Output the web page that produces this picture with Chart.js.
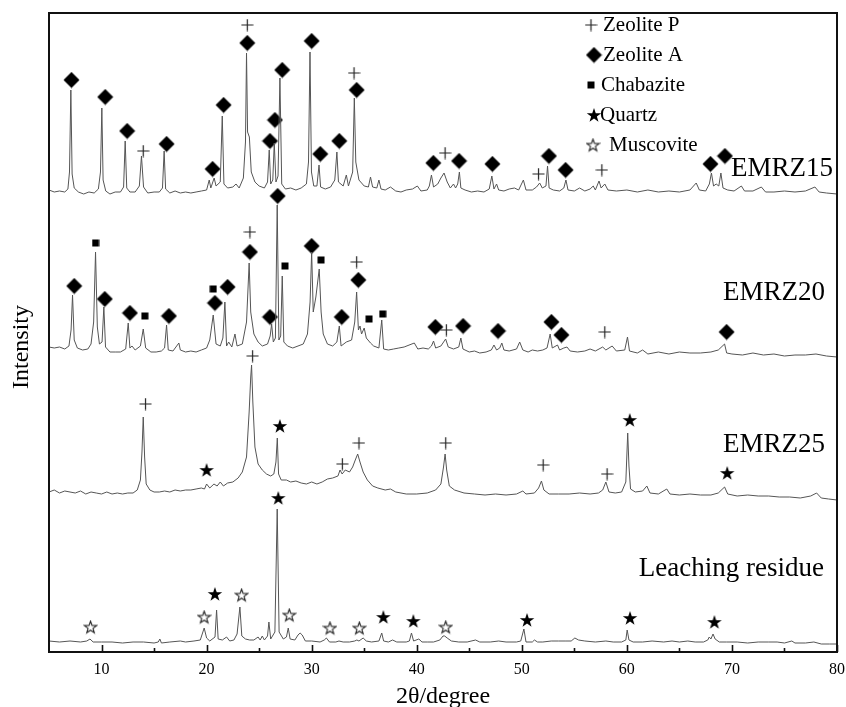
<!DOCTYPE html>
<html>
<head>
<meta charset="utf-8">
<script src="https://cdn.jsdelivr.net/npm/chart.js@4.4.0/dist/chart.umd.min.js"></script>
<style>
  html, body { margin: 0; padding: 0; background: #fff; }
  canvas { display: block; }
</style>
</head>
<body>
<canvas id="xrdChart" width="846" height="707"></canvas>
<script>
// axis ticks
const xTickValues = [10, 20, 30, 40, 50, 60, 70, 80];
const xMinorTicks = [15, 25, 35, 45, 55, 65, 75];

// samples, stacked with a vertical offset each
const sampleNames = ["EMRZ15", "EMRZ20", "EMRZ25", "Leaching residue"];
const sampleOffsets = [460, 300, 160, 10];

// [2theta, intensity above own baseline]
const emrz15 = [
  [5.0, 2], [5.5, 0], [6.0, 1], [6.5, 0], [6.8, 3], [6.95, 20], [7.08, 102], [7.2, 18], [7.4, 4], [7.8, 0],
  [8.3, -2], [8.8, 0], [9.3, -1], [9.7, 3], [9.9, 20], [10.03, 84], [10.15, 12], [10.4, 1], [10.8, -2], [11.3, 0],
  [11.8, 0], [12.1, 5], [12.25, 51], [12.4, 4], [12.7, 0], [13.2, 0], [13.6, 6], [13.8, 36], [14.0, 5], [14.4, -1],
  [15.0, 0], [15.5, 0], [15.8, 4], [15.96, 41], [16.1, 3], [16.5, -1], [17.0, 1], [17.5, -1], [18.0, 0], [18.5, -1],
  [19.0, 0], [19.5, 1], [20.0, 2], [20.25, 12], [20.4, 4], [20.72, 14], [20.9, 6], [21.3, 10], [21.49, 76], [21.65, 8],
  [22.0, 4], [22.5, 5], [22.8, 8], [23.1, 4], [23.5, 14], [23.7, 50], [23.8, 139], [23.9, 60], [24.07, 55], [24.25, 20],
  [24.6, 10], [25.0, 6], [25.5, 4], [25.8, 10], [25.96, 42], [26.1, 8], [26.3, 12], [26.44, 49], [26.6, 10], [26.8, 16],
  [26.98, 114], [27.15, 8], [27.5, 3], [28.0, 4], [28.5, 2], [29.0, 4], [29.5, 8], [29.7, 30], [29.84, 140], [29.98, 20],
  [30.2, 6], [30.5, 6], [30.7, 27], [30.85, 5], [31.3, 3], [31.8, 5], [32.2, 12], [32.4, 40], [32.55, 10], [33.0, 6],
  [33.3, 17], [33.5, 6], [33.9, 20], [34.06, 94], [34.2, 30], [34.5, 12], [35.0, 6], [35.4, 5], [35.6, 15], [35.8, 5],
  [36.2, 4], [36.4, 12], [36.6, 3], [37.0, 2], [37.5, 5], [38.0, 1], [38.5, 0], [39.0, 2], [39.6, 3], [40.06, 6],
  [40.4, 1], [41.0, 2], [41.2, 6], [41.4, 17], [41.6, 5], [42.0, 8], [42.3, 14], [42.6, 19], [42.9, 10], [43.2, 4],
  [43.5, 8], [43.7, 4], [43.9, 8], [44.06, 20], [44.2, 4], [44.6, 2], [45.2, 0], [45.8, 1], [46.4, 0], [46.9, 3],
  [47.15, 16], [47.35, 3], [47.6, 8], [47.8, 2], [48.3, 1], [48.8, 3], [49.3, 4], [49.7, 2], [50.15, 12], [50.4, 2],
  [51.0, 2], [51.4, 5], [51.7, 9], [51.95, 4], [52.3, 6], [52.45, 26], [52.6, 4], [53.0, 2], [53.6, 1], [54.0, 4],
  [54.2, 12], [54.4, 2], [55.0, 1], [55.5, 4], [56.0, 1], [56.5, 3], [56.8, 6], [57.0, 2], [57.35, 11], [57.55, 4],
  [57.9, 8], [58.2, 2], [59.0, 1], [60.0, 2], [61.0, 0], [62.0, 2], [63.0, 0], [64.0, 1], [65.0, 0], [66.0, 2],
  [66.6, 9], [66.9, 2], [67.5, 1], [67.85, 8], [68.05, 19], [68.25, 6], [68.5, 8], [68.75, 6], [68.95, 19], [69.15, 4],
  [69.6, 2], [70.2, 1], [70.9, 6], [71.2, 1], [72.0, 1], [72.8, 5], [73.2, 0], [74.0, 0], [75.0, 1], [76.0, 0],
  [77.0, 1], [77.9, 5], [78.3, 0], [79.0, -1], [80.0, -2]
];

const emrz20 = [
  [5.0, 5], [5.5, 4], [6.0, 5], [6.5, 3], [6.9, 6], [7.1, 22], [7.24, 57], [7.4, 12], [7.7, 4], [8.2, 2],
  [8.7, 3], [9.0, 8], [9.25, 30], [9.43, 100], [9.6, 25], [9.8, 8], [10.05, 10], [10.22, 45], [10.38, 5], [10.8, 0],
  [11.3, 0], [11.8, 0], [12.3, 3], [12.54, 29], [12.7, 4], [12.9, 6], [13.2, 2], [13.7, 6], [13.97, 23], [14.2, 4],
  [14.7, 0], [15.2, 0], [15.7, 1], [16.0, 4], [16.19, 27], [16.35, 2], [16.8, 1], [17.36, 9], [17.5, 2], [18.0, 0],
  [18.5, 1], [19.0, 0], [19.5, 2], [20.0, 4], [20.3, 12], [20.63, 37], [20.9, 8], [21.3, 6], [21.55, 14], [21.74, 50],
  [21.9, 6], [22.1, 10], [22.4, 5], [22.7, 18], [22.9, 6], [23.4, 8], [23.8, 30], [24.05, 89], [24.2, 40], [24.5, 18],
  [24.9, 10], [25.3, 6], [25.8, 8], [26.05, 16], [26.19, 28], [26.35, 10], [26.55, 14], [26.72, 147], [26.88, 12], [27.05, 16],
  [27.2, 76], [27.35, 10], [27.7, 6], [28.2, 4], [28.7, 6], [29.2, 8], [29.6, 18], [29.85, 50], [30.0, 100], [30.15, 40],
  [30.4, 55], [30.72, 83], [30.9, 40], [31.1, 18], [31.5, 8], [32.0, 6], [32.4, 10], [32.63, 26], [32.8, 6], [33.3, 10],
  [33.8, 12], [34.1, 30], [34.28, 60], [34.45, 22], [34.6, 26], [34.75, 18], [35.0, 24], [35.2, 14], [35.6, 9], [35.9, 6],
  [36.4, 4], [36.67, 32], [36.85, 3], [37.3, 2], [37.8, 3], [38.3, 4], [38.8, 5], [39.77, 9], [40.1, 3], [40.6, 4],
  [41.1, 3], [41.4, 6], [41.6, 11], [41.8, 4], [42.3, 6], [42.75, 13], [43.0, 5], [43.5, 3], [44.0, 5], [44.2, 14],
  [44.4, 3], [45.0, 0], [45.5, 1], [46.0, -1], [46.6, 0], [47.1, 2], [47.35, 7], [47.6, 2], [47.9, 4], [48.1, 9],
  [48.3, 2], [48.8, 1], [49.5, 3], [49.8, 10], [50.1, 2], [50.6, 0], [51.0, 2], [51.5, 1], [52.0, 2], [52.4, 4],
  [52.7, 18], [52.9, 4], [53.4, 7], [53.6, 2], [54.0, 4], [54.3, 5], [54.6, 1], [55.3, 0], [56.0, 1], [56.5, 3],
  [57.0, 1], [57.7, 5], [58.0, 2], [58.6, 6], [59.0, 1], [59.8, 2], [60.06, 15], [60.25, 1], [61.0, -1], [61.5, 2],
  [62.0, -2], [63.0, 0], [64.0, -2], [65.0, 0], [66.0, -1], [67.0, -1], [68.0, 0], [68.7, 2], [69.3, 8], [69.5, -1],
  [70.0, -2], [71.0, -3], [72.0, -1], [73.0, -3], [74.0, -2], [75.0, -4], [76.0, -3], [77.0, -3], [78.0, -2], [79.0, -4],
  [80.0, -5]
];

const emrz25 = [
  [5.0, 0], [5.5, 2], [6.0, -1], [6.5, 1], [7.0, 0], [7.5, -1], [8.0, 1], [8.5, -2], [9.0, 0], [9.5, -1],
  [10.0, -2], [10.5, 0], [11.0, -2], [11.5, -1], [12.0, -2], [12.5, -1], [13.0, -1], [13.4, 2], [13.7, 12], [13.85, 40],
  [13.97, 75], [14.1, 35], [14.25, 8], [14.6, 2], [15.0, 0], [15.5, 0], [16.0, 1], [16.5, 0], [17.0, 2], [17.5, 1],
  [18.0, 2], [18.5, 2], [19.0, 3], [19.5, 4], [19.8, 3], [20.0, 8], [20.3, 4], [20.7, 8], [21.0, 6], [21.3, 10],
  [21.6, 6], [22.0, 9], [22.5, 10], [23.0, 14], [23.4, 20], [23.8, 35], [24.05, 80], [24.2, 115], [24.28, 127], [24.4, 90],
  [24.6, 45], [24.9, 28], [25.3, 22], [25.7, 18], [26.1, 16], [26.4, 18], [26.6, 30], [26.73, 54], [26.85, 18], [27.1, 12],
  [27.6, 12], [28.0, 10], [28.5, 11], [29.0, 9], [29.5, 8], [30.0, 10], [30.5, 8], [31.0, 10], [31.5, 13], [32.0, 14],
  [32.5, 16], [32.7, 22], [32.9, 18], [33.2, 22], [33.6, 20], [33.9, 25], [34.15, 32], [34.38, 38], [34.6, 30], [34.9, 20],
  [35.3, 12], [35.8, 6], [36.3, 4], [37.0, 2], [37.5, 3], [38.0, 0], [39.0, -2], [40.0, -2], [41.0, -1], [41.8, 2],
  [42.3, 8], [42.55, 25], [42.7, 38], [42.85, 22], [43.1, 6], [43.6, 2], [44.5, -1], [45.5, -2], [46.5, -3], [47.5, -2],
  [48.5, -3], [49.5, -2], [50.1, 1], [50.4, -2], [51.2, -1], [51.6, 4], [51.87, 11], [52.1, 2], [52.6, -2], [53.5, -2],
  [54.5, -2], [55.5, -1], [56.5, -2], [57.3, -1], [57.7, 2], [58.0, 10], [58.3, 0], [58.9, -1], [59.5, 0], [59.9, 10],
  [60.08, 59], [60.2, 26], [60.35, 3], [60.8, 0], [61.5, 1], [61.9, 6], [62.2, -1], [63.0, -2], [63.8, 3], [64.1, -2],
  [65.0, -3], [66.0, -2], [67.0, -3], [68.0, -3], [68.7, -1], [69.3, 5], [69.6, -2], [70.5, -4], [71.5, -3], [72.5, -4],
  [73.5, -4], [74.5, -5], [75.5, -5], [76.5, -6], [77.5, -4], [78.06, -1], [78.5, -6], [79.2, -7], [80.0, -8]
];

const residue = [
  [5.0, 1], [6.0, 0], [7.0, 1], [8.0, 0], [8.6, 1], [8.9, 3], [9.2, 0], [10.0, 0], [11.0, 0], [12.0, -1],
  [13.0, 0], [14.0, 0], [15.0, -1], [15.4, 0], [15.55, 3], [15.7, -1], [16.5, 0], [17.5, 1], [18.0, 0], [18.8, 1],
  [19.4, 2], [19.77, 14], [20.0, 4], [20.3, 1], [20.8, 5], [20.95, 32], [21.1, 3], [21.5, 2], [21.9, 5], [22.2, 1],
  [22.6, 2], [22.9, 8], [23.17, 35], [23.35, 6], [23.7, 3], [24.1, 2], [24.5, 2], [24.9, 5], [25.1, 2], [25.3, 6],
  [25.5, 2], [25.8, 6], [25.93, 20], [26.1, 3], [26.5, 10], [26.72, 133], [26.9, 10], [27.3, 3], [27.6, 5], [27.77, 14],
  [27.95, 3], [28.4, 2], [28.7, 7], [28.9, 9], [29.1, 7], [29.4, 1], [30.0, 1], [30.8, 0], [31.2, 2], [31.4, 4],
  [31.7, 0], [32.3, 0], [32.6, 1], [33.0, 0], [33.6, 0], [34.1, 1], [34.3, 2], [34.5, 1], [34.9, 4], [35.2, 1],
  [35.7, 0], [36.4, 1], [36.67, 9], [36.85, 1], [37.3, 0], [37.7, 2], [38.1, 0], [39.0, 0], [39.3, 1], [39.5, 9],
  [39.7, 1], [40.2, 3], [40.5, 0], [41.0, 0], [41.6, 0], [42.2, 2], [42.5, 6], [42.66, 6], [42.9, 4], [43.3, 1],
  [44.0, 0], [44.8, 0], [45.6, 2], [46.0, 0], [47.0, 0], [47.8, 1], [48.5, 0], [49.5, 0], [49.9, 1], [50.2, 13],
  [50.4, 0], [51.0, 0], [51.2, 2], [51.5, 0], [52.0, 0], [52.8, 1], [53.5, 1], [54.2, 1], [54.7, 1], [55.05, 4],
  [55.4, 2], [56.0, 1], [57.0, 0], [58.0, 1], [58.7, 0], [59.5, 0], [59.9, 2], [60.03, 12], [60.2, 2], [60.6, 0],
  [61.5, 0], [62.4, 1], [63.5, 0], [64.3, 1], [65.0, 0], [65.8, 1], [66.5, 0], [67.3, 0], [67.7, 2], [67.84, 5],
  [68.0, 3], [68.2, 8], [68.4, 3], [68.8, 0], [69.5, 0], [70.5, 0], [71.5, -1], [72.5, 0], [73.5, 0], [74.3, 0],
  [75.0, -1], [75.7, 1], [76.0, -1], [77.0, -1], [77.8, 0], [78.5, -2], [79.3, -2], [80.0, -2]
];

// phase marks [2theta, height on the whole stacked plot]
const zeolitePMarks = [
  [13.97, 501], [23.87, 627], [34.03, 579], [42.7, 499], [51.59, 478], [57.62, 482],
  [24.12, 420], [34.28, 390], [42.82, 322], [57.9, 320],
  [14.19, 248], [24.38, 296], [32.92, 188], [34.5, 209], [42.76, 209], [52.03, 187], [58.12, 178]
];
const zeoliteAMarks = [
  [7.14, 572], [10.35, 555], [12.44, 521], [16.19, 508], [20.57, 483], [21.62, 547], [23.87, 609],
  [26.03, 511], [26.5, 532], [27.2, 582], [30.0, 611], [30.82, 498], [32.63, 511], [34.28, 562],
  [41.58, 489], [44.03, 491], [47.2, 488], [52.58, 496], [54.17, 482], [67.96, 488], [69.33, 496],
  [7.4, 366], [10.31, 353], [12.7, 339], [16.41, 336], [20.79, 349], [22.0, 365], [24.12, 400],
  [26.03, 335], [26.76, 456], [30.0, 406], [32.86, 335], [34.44, 372], [41.77, 325], [44.41, 326],
  [47.74, 321], [52.82, 330], [53.77, 317], [69.49, 320]
];
const chabaziteMarks = [
  [9.43, 409], [14.12, 336], [20.63, 363], [27.46, 386], [30.89, 392], [35.46, 333], [36.76, 338]
];
const quartzMarks = [
  [20.0, 182], [26.98, 226], [60.28, 232], [69.55, 179],
  [20.79, 58], [26.82, 154], [36.82, 35], [39.68, 31], [50.5, 32], [60.3, 34], [68.33, 30]
];
const muscoviteMarks = [
  [8.95, 25], [19.77, 35], [23.33, 57], [27.87, 37], [31.74, 24], [34.54, 24], [42.76, 25]
];

const phaseNames = ["Zeolite P", "Zeolite A", "Chabazite", "Quartz", "Muscovite"];

const FONT = "'Liberation Serif', 'Times New Roman', serif";

function starPath(g, cx, cy, R, r) {
  g.beginPath();
  for (let i = 0; i < 10; i++) {
    const a = -Math.PI / 2 + i * Math.PI / 5;
    const rad = i % 2 === 0 ? R : r;
    const px = cx + rad * Math.cos(a);
    const py = cy + rad * Math.sin(a);
    if (i === 0) g.moveTo(px, py); else g.lineTo(px, py);
  }
  g.closePath();
}

function makeMarker(kind) {
  const sizes = { plus: 13, diamond: 17, square: 8, quartz: 16, muscovite: 15 };
  const s = sizes[kind];
  const c = document.createElement("canvas");
  c.width = s;
  c.height = s;
  const g = c.getContext("2d");
  g.fillStyle = "#000";
  g.strokeStyle = "#222";
  if (kind === "plus") {
    g.lineWidth = 1.2;
    g.beginPath();
    g.moveTo(0.5, s / 2); g.lineTo(s - 0.5, s / 2);
    g.moveTo(s / 2, 0.5); g.lineTo(s / 2, s - 0.5);
    g.stroke();
  } else if (kind === "diamond") {
    g.beginPath();
    g.moveTo(s / 2, 0.5); g.lineTo(s - 0.5, s / 2); g.lineTo(s / 2, s - 0.5); g.lineTo(0.5, s / 2);
    g.closePath();
    g.fill();
  } else if (kind === "square") {
    g.fillRect(0.5, 0.5, s - 1, s - 1);
  } else if (kind === "quartz") {
    starPath(g, s / 2, s / 2 + 0.6, 7.6, 3.0);
    g.fill();
  } else {
    g.lineWidth = 1.1;
    starPath(g, s / 2, s / 2 + 0.6, 6.4, 2.6);
    g.stroke();
  }
  return c;
}

const markerKinds = ["plus", "diamond", "square", "quartz", "muscovite"];
const markerImages = markerKinds.map(makeMarker);
const markSets = [zeolitePMarks, zeoliteAMarks, chabaziteMarks, quartzMarks, muscoviteMarks];

const traces = [emrz15, emrz20, emrz25, residue];

const datasets = [];
traces.forEach((trace, i) => {
  datasets.push({
    label: sampleNames[i],
    data: trace.map(p => ({ x: p[0], y: p[1] + sampleOffsets[i] })),
    borderColor: "#555555",
    borderWidth: 1,
    pointRadius: 0,
    tension: 0,
    fill: false
  });
});
markSets.forEach((marks, i) => {
  datasets.push({
    label: phaseNames[i],
    data: marks.map(p => ({ x: p[0], y: p[1] })),
    showLine: false,
    pointStyle: markerImages[i],
    pointRadius: 6,
    clip: false
  });
});

// labels, legend, frame, inward ticks, y title
const decorations = {
  id: "decorations",
  afterDraw(chart) {
    const { ctx, chartArea: a, scales } = chart;
    const x = scales.x;
    ctx.save();
    ctx.strokeStyle = "#111";
    ctx.lineWidth = 2;
    ctx.strokeRect(a.left, a.top, a.right - a.left, a.bottom - a.top);

    ctx.lineWidth = 1.6;
    ctx.beginPath();
    xTickValues.forEach(v => {
      const px = Math.round(x.getPixelForValue(v)) + 0.5;
      ctx.moveTo(px, a.bottom); ctx.lineTo(px, a.bottom - 7);
    });
    xMinorTicks.forEach(v => {
      const px = Math.round(x.getPixelForValue(v)) + 0.5;
      ctx.moveTo(px, a.bottom); ctx.lineTo(px, a.bottom - 4);
    });
    ctx.stroke();

    ctx.fillStyle = "#000";
    ctx.font = "24px " + FONT;
    ctx.textAlign = "center";
    ctx.textBaseline = "alphabetic";
    ctx.translate(28, 347);
    ctx.rotate(-Math.PI / 2);
    ctx.fillText("Intensity", 0, 0);
    ctx.setTransform(1, 0, 0, 1, 0, 0);

    ctx.font = "27px " + FONT;
    ctx.textAlign = "right";
    const labelPos = [[833, 176], [825, 300], [825, 452], [824, 576]];
    sampleNames.forEach((name, i) => {
      ctx.fillText(name, labelPos[i][0], labelPos[i][1]);
    });

    ctx.font = "21px " + FONT;
    ctx.textAlign = "left";
    ctx.textBaseline = "middle";
    const rowY = [25, 55, 85, 115, 145];
    const symX = [591, 594, 591, 594, 593];
    const textX = [603, 603, 601, 600, 609];
    phaseNames.forEach((name, i) => {
      const img = markerImages[i];
      ctx.drawImage(img, symX[i] - img.width / 2, rowY[i] - img.height / 2);
      ctx.fillText(name, textX[i], rowY[i]);
    });
    ctx.restore();
  }
};

Chart.defaults.font.family = FONT;
Chart.defaults.color = "#000";

new Chart(document.getElementById("xrdChart"), {
  type: "line",
  data: { datasets: datasets },
  options: {
    responsive: false,
    animation: false,
    layout: { padding: { left: 49, right: 9, top: 13, bottom: 0 } },
    plugins: { legend: { display: false }, tooltip: { enabled: false } },
    scales: {
      x: {
        type: "linear",
        min: 5,
        max: 80,
        grid: { display: false },
        border: { display: false },
        afterBuildTicks: scale => { scale.ticks = xTickValues.map(v => ({ value: v })); },
        afterFit: scale => {
          scale.height = 55;
          scale.paddingLeft = 0;
          scale.paddingRight = 0;
        },
        ticks: { font: { size: 16 }, color: "#000", padding: 0, maxRotation: 0, autoSkip: false },
        title: {
          display: true,
          text: "2θ/degree",
          font: { size: 24, lineHeight: 1 },
          color: "#000",
          padding: { top: 0, bottom: -2 }
        }
      },
      y: { display: false, min: 0, max: 639 }
    }
  },
  plugins: [decorations]
});
</script>
</body>
</html>
